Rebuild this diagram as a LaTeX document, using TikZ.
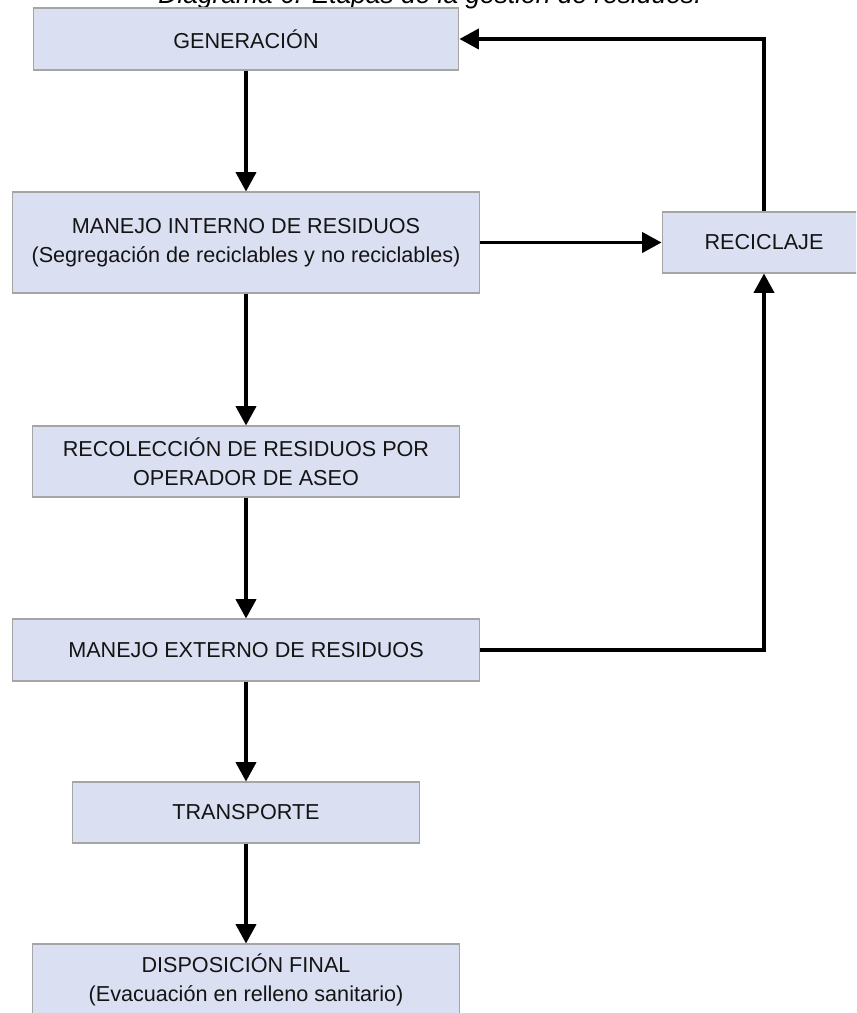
\documentclass[tikz,border=0pt]{standalone}
\usepackage{fontspec}
\setmainfont{Liberation Sans}
\usetikzlibrary{arrows.meta, positioning, calc}
\definecolor{EtapaFill}{RGB}{218, 224, 242}
\definecolor{EtapaBorder}{RGB}{165, 165, 165}
\definecolor{EtapaText}{RGB}{20, 20, 20}

\begin{document}
\begin{tikzpicture}[
    x=0.02cm, y=-0.02cm,
    etapa/.style={
      rectangle, fill=EtapaFill, draw=EtapaBorder, line width=0.6pt,
      inner sep=0pt, align=center, text=EtapaText,
      font=\fontsize{12.3}{16.5}\selectfont
    },
    flujo/.style={-{Triangle[length=11pt, width=11.5pt]}, line width=1.8pt}
  ]
  \useasboundingbox (0,0) rectangle (856,1013);
  \fill[white] (0,0) rectangle (856,1013);
  \clip (0,0) rectangle (856,1013);

  \node[anchor=base, font=\fontsize{15}{17}\selectfont\itshape] (titulo) at (430,4)
    {Diagrama 6. Etapas de la gestión de residuos.};

  % etapas
  \node[etapa, minimum width=8.52cm, minimum height=1.24cm] (gen) at (246,39) {GENERACIÓN};
  \node[etapa, minimum width=9.36cm, minimum height=2.02cm] (interno) at (246,242.5)
    {MANEJO INTERNO DE RESIDUOS\\(Segregación de reciclables y no reciclables)};
  \node[etapa, minimum width=4.08cm, minimum height=1.22cm] (reciclaje) at (764,242.5) {RECICLAJE};
  \node[etapa, minimum width=8.56cm, minimum height=1.42cm] (recoleccion) at (246,461.5)
    {RECOLECCIÓN DE RESIDUOS POR\\OPERADOR DE ASEO};
  \node[etapa, minimum width=9.36cm, minimum height=1.24cm] (externo) at (246,650) {MANEJO EXTERNO DE RESIDUOS};
  \node[etapa, minimum width=6.94cm, minimum height=1.22cm] (transporte) at (246,812.5) {TRANSPORTE};
  \node[etapa, minimum width=8.54cm, minimum height=1.42cm] (disposicion) at (246,979.5)
    {DISPOSICIÓN FINAL\\(Evacuación en relleno sanitario)};

  % flujo principal
  \draw[flujo] (gen) -- (interno);
  \draw[flujo] (interno) -- (recoleccion);
  \draw[flujo] (recoleccion) -- (externo);
  \draw[flujo] (externo) -- (transporte);
  \draw[flujo] (transporte) -- (disposicion);

  % reciclaje
  \draw[flujo] (interno.east) -- (reciclaje.west);
  \draw[flujo] (externo.east) -| (reciclaje.south);
  \draw[flujo] (reciclaje.north) |- (gen.east);
\end{tikzpicture}
\end{document}
